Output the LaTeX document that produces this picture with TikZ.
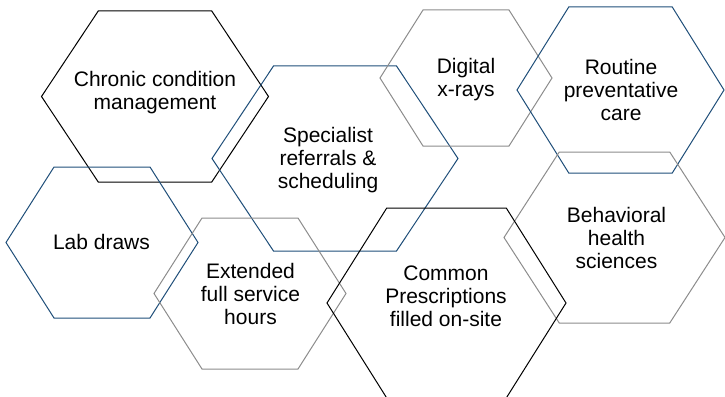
\documentclass[tikz,border=0pt]{standalone}
\usepackage{fontspec}
\setmainfont{Liberation Sans}
\usepackage{tikz}
\usetikzlibrary{positioning}
\definecolor{hexblue}{HTML}{1F4E79}
\definecolor{hexgray}{HTML}{8C8C8C}
\tikzset{>=latex}

% flat-topped hexagon: centre x, centre y, half width, half height, style
\newcommand{\hexcell}[5]{\draw[#5] (#1-#3,#2) -- (#1-#3/2,#2-#4) -- (#1+#3/2,#2-#4) -- (#1+#3,#2) -- (#1+#3/2,#2+#4) -- (#1-#3/2,#2+#4) -- cycle;}

\begin{document}
\begin{tikzpicture}[x=1pt, y=-1pt, cell/.style={line width=1pt, line join=miter}, blackcell/.style={cell, draw=black}, bluecell/.style={cell, draw=hexblue}, graycell/.style={cell, draw=hexgray}, service/.style={align=center, inner sep=0pt, font=\fontsize{21}{23}\selectfont}]
		\useasboundingbox (0,0) rectangle (725,396);

		\hexcell{155}{96.5}{113.5}{85.5}{blackcell}
		\hexcell{335}{158.5}{123}{92.5}{bluecell}
		\hexcell{466}{78}{86}{68}{graycell}
		\hexcell{620.5}{90}{103.5}{83}{bluecell}
		\hexcell{614.5}{237.5}{110.5}{85.5}{graycell}
		\hexcell{102}{242.5}{96}{75.5}{bluecell}
		\hexcell{250}{293.5}{96}{75.5}{graycell}
		\hexcell{446.5}{303}{119.5}{95}{blackcell}

		\node[service] (chronic) at (155,92.5) {Chronic condition\\management};
		\node[service] (specialist) at (328,160.5) {Specialist\\referrals \&\\scheduling};
		\node[service] (xrays) at (466,79.5) {Digital\\x-rays};
		\node[service] (routine) at (621,90) {Routine\\preventative\\care};
		\node[service] (behavioral) at (616.5,238) {Behavioral\\health\\sciences};
		\node[service] (lab) at (101.5,242) {Lab draws};
		\node[service] (hours) at (250.5,293.5) {Extended\\full service\\hours};
		\node[service] (prescriptions) at (446,296) {Common\\Prescriptions\\filled on-site};
\end{tikzpicture}
\end{document}
